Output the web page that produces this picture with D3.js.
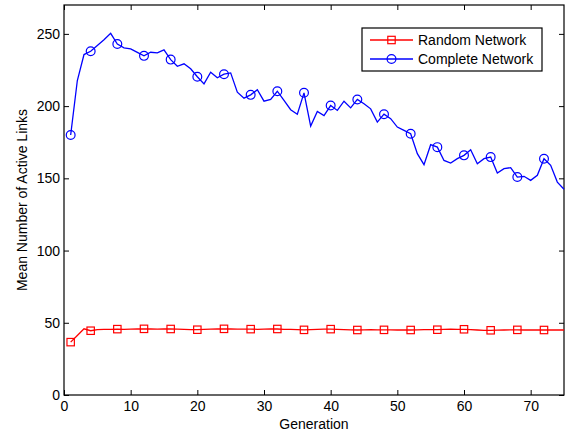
<!DOCTYPE html>
<html lang="en">
<head>
<meta charset="utf-8">
<title>active links</title>
<script src="https://d3js.org/d3.v7.min.js"></script>
<style>
  body { margin: 0; background: #fff; }
  text { font-family: "Liberation Sans", Arial, sans-serif; fill: #000; }
</style>
</head>
<body>
<div id="main"></div>
<script>
var width = 568, height = 436;

// generations 1..75
var generations = d3.range(1, 76);

var completeNetwork = [
  180, 217.7, 235.7, 238, 242, 246, 250.4, 243, 240.3, 239.6,
  237.2, 234.8, 237.3, 236.8, 238.9, 232.2, 227.6, 229.3, 225.8, 220.3,
  215.4, 223.5, 219.6, 222.1, 223, 209.6, 205.5, 207.8, 211.3, 203.4,
  204.6, 210.3, 203.9, 197.5, 194.4, 209.2, 186.2, 196.3, 193.5, 200.4,
  197, 203.4, 198.8, 204.6, 201.6, 198.1, 188.9, 194.4, 191.3, 185.5,
  183.2, 180.9, 167.1, 159.5, 173.3, 171.6, 162.4, 160.6, 163.6, 165.9,
  169.8, 160.1, 163.6, 164.7, 153.7, 156.7, 157.4, 150.9, 151.4, 148.6,
  152.1, 163.6, 159, 147.4, 142.4
];

var randomNetwork = [
  36.6, 41.2, 45.8, 44.5, 45.3, 45.5, 45.4, 45.6, 45.5, 45.6,
  45.7, 45.8, 45.7, 45.6, 45.7, 45.7, 45.6, 45.5, 45.3, 45.2,
  45.4, 45.6, 45.7, 45.8, 45.7, 45.6, 45.6, 45.6, 45.5, 45.6,
  45.7, 45.7, 45.5, 45.4, 45.2, 45.1, 45.3, 45.5, 45.6, 45.6,
  45.4, 45.2, 45.1, 45.0, 45.1, 45.2, 45.1, 45.1, 45.1, 45.0,
  45.0, 45.0, 45.1, 45.2, 45.2, 45.2, 45.4, 45.6, 45.5, 45.5,
  45.3, 45.0, 44.8, 44.8, 44.9, 45.0, 45.1, 45.1, 45.0, 45.0,
  45.0, 45.0, 45.0, 45.0, 45.0
];

var markerGens = [1, 4, 8, 12, 16, 20, 24, 28, 32, 36, 40, 44, 48, 52, 56, 60, 64, 68, 72];
var xTicks = [0, 10, 20, 30, 40, 50, 60, 70];
var yTicks = [0, 50, 100, 150, 200, 250];
var seriesNames = ["Random Network", "Complete Network"];

var margin = {left: 64, right: 4, top: 5, bottom: 41};
var fs = 14;

var x = d3.scaleLinear().domain([0, 75]).range([margin.left, width - margin.right]);
var y = d3.scaleLinear().domain([0, 270]).range([height - margin.bottom, margin.top]);

var svg = d3.select("#main").append("svg")
  .attr("width", width).attr("height", height);

var tick = 5;
// ticks on all four sides, pointing inwards
svg.append("g")
  .attr("transform", "translate(0," + y(0) + ")")
  .call(d3.axisBottom(x).tickValues(xTicks).tickSizeInner(-tick).tickSizeOuter(0).tickPadding(6))
  .call(function(g) { g.select(".domain").remove(); });
svg.append("g")
  .attr("transform", "translate(0," + y(270) + ")")
  .call(d3.axisTop(x).tickValues(xTicks).tickSizeInner(-tick).tickSizeOuter(0).tickFormat(""))
  .call(function(g) { g.select(".domain").remove(); });
svg.append("g")
  .attr("transform", "translate(" + x(0) + ",0)")
  .call(d3.axisLeft(y).tickValues(yTicks).tickSizeInner(-tick).tickSizeOuter(0).tickPadding(4))
  .call(function(g) { g.select(".domain").remove(); });
svg.append("g")
  .attr("transform", "translate(" + x(75) + ",0)")
  .call(d3.axisRight(y).tickValues(yTicks).tickSizeInner(-tick).tickSizeOuter(0).tickFormat(""))
  .call(function(g) { g.select(".domain").remove(); });

svg.selectAll(".tick text")
  .attr("font-family", "Liberation Sans, Arial, sans-serif")
  .attr("font-size", fs).attr("fill", "#000");
svg.selectAll(".tick line").attr("stroke", "#000");

svg.append("rect")
  .attr("x", x(0)).attr("y", y(270))
  .attr("width", x(75) - x(0)).attr("height", y(0) - y(270))
  .attr("fill", "none").attr("stroke", "#000").attr("stroke-width", 1.2);

var line = d3.line().x(function(d) { return x(d[0]); }).y(function(d) { return y(d[1]); });

function series(vals, color) {
  var pts = generations.map(function(g, i) { return [g, vals[i]]; });
  svg.append("path").datum(pts)
    .attr("d", line).attr("fill", "none")
    .attr("stroke", color).attr("stroke-width", 1.3);
  return pts.filter(function(p) { return markerGens.indexOf(p[0]) >= 0; });
}

var rm = series(randomNetwork, "#ff0000");
svg.selectAll(".sq").data(rm).enter().append("rect")
  .attr("x", function(d) { return x(d[0]) - 3.7; })
  .attr("y", function(d) { return y(d[1]) - 3.7; })
  .attr("width", 7.4).attr("height", 7.4)
  .attr("fill", "none").attr("stroke", "#ff0000").attr("stroke-width", 1.2);

var cm = series(completeNetwork, "#0000ff");
svg.selectAll(".ci").data(cm).enter().append("circle")
  .attr("cx", function(d) { return x(d[0]); })
  .attr("cy", function(d) { return y(d[1]); })
  .attr("r", 4.4)
  .attr("fill", "none").attr("stroke", "#0000ff").attr("stroke-width", 1.2);

// axis labels
svg.append("text")
  .attr("x", x(37.5)).attr("y", 429)
  .attr("text-anchor", "middle").attr("font-size", fs)
  .text("Generation");
svg.append("text")
  .attr("transform", "translate(27," + y(135) + ") rotate(-90)")
  .attr("text-anchor", "middle").attr("font-size", fs)
  .text("Mean Number of Active Links");

// legend
var lg = svg.append("g").attr("transform", "translate(362,28)");
lg.append("rect").attr("width", 180).attr("height", 43)
  .attr("fill", "#fff").attr("stroke", "#000").attr("stroke-width", 1.2);
var colors = ["#ff0000", "#0000ff"];
seriesNames.forEach(function(name, i) {
  var yy = 12 + i * 19;
  lg.append("line").attr("x1", 8).attr("x2", 51).attr("y1", yy).attr("y2", yy)
    .attr("stroke", colors[i]).attr("stroke-width", 1.3);
  if (i === 0) {
    lg.append("rect").attr("x", 29.5 - 3.7).attr("y", yy - 3.7).attr("width", 7.4).attr("height", 7.4)
      .attr("fill", "none").attr("stroke", colors[i]).attr("stroke-width", 1.2);
  } else {
    lg.append("circle").attr("cx", 29.5).attr("cy", yy).attr("r", 4.4)
      .attr("fill", "none").attr("stroke", colors[i]).attr("stroke-width", 1.2);
  }
  lg.append("text").attr("x", 56).attr("y", yy + 5).attr("font-size", fs).text(name);
});
</script>
</body>
</html>
